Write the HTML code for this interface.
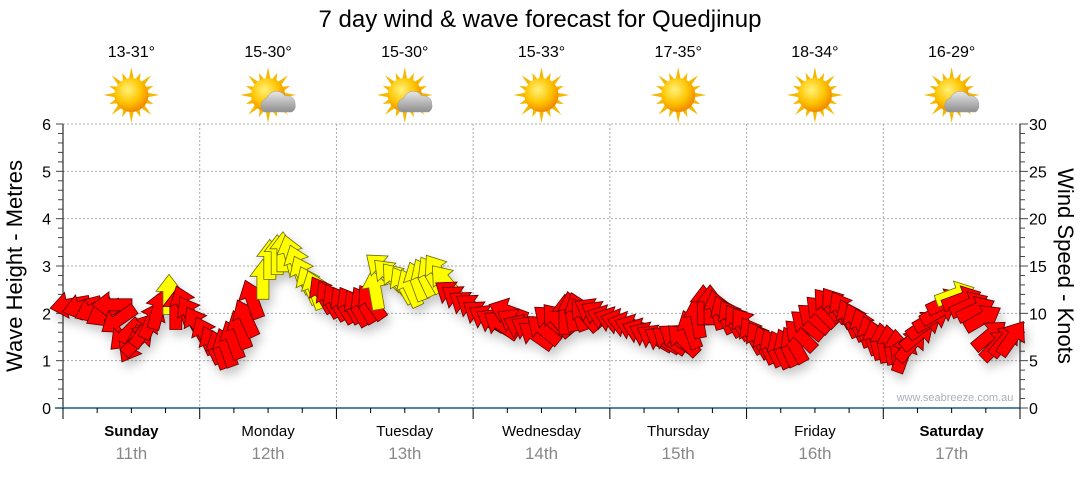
<!DOCTYPE html>
<html><head><meta charset="utf-8">
<style>
body{margin:0;background:#fff;font-family:"Liberation Sans",sans-serif;}
svg text{font-family:"Liberation Sans",sans-serif;}
</style></head>
<body>
<svg id="chart" width="1080" height="475" xmlns="http://www.w3.org/2000/svg">
<defs>
<filter id="sh" x="-50%" y="-50%" width="200%" height="200%"><feDropShadow dx="3" dy="6" stdDeviation="5" flood-color="#000" flood-opacity="0.22"/></filter>
<radialGradient id="sun" cx="40%" cy="35%" r="65%"><stop offset="0" stop-color="#fff27a"/><stop offset="0.6" stop-color="#ffc400"/><stop offset="1" stop-color="#f08a00"/></radialGradient>
<linearGradient id="cloud" x1="0" y1="0" x2="0" y2="1"><stop offset="0" stop-color="#e8e8e8"/><stop offset="1" stop-color="#8e8e8e"/></linearGradient>
</defs>
<text x="540" y="27" text-anchor="middle" font-size="24" fill="#000">7 day wind &amp; wave forecast for Quedjinup</text>
<g id="grid"></g>
<g id="axes"></g>
<g id="days"></g>
<g id="arrows" filter="url(#sh)"></g>
<text x="955" y="401" text-anchor="middle" font-size="11" fill="#a8b0bc">www.seabreeze.com.au</text>
<text transform="translate(22,266) rotate(-90)" text-anchor="middle" font-size="22" fill="#000">Wave Height - Metres</text>
<text transform="translate(1058,266) rotate(90)" text-anchor="middle" font-size="22" fill="#000">Wind Speed - Knots</text>
</svg>
<script>
const dayNames=["Sunday","Monday","Tuesday","Wednesday","Thursday","Friday","Saturday"];
const dayDates=["11th","12th","13th","14th","15th","16th","17th"];
const dayTemps=["13-31°","15-30°","15-30°","15-33°","17-35°","18-34°","16-29°"];
const dayIcons=["sun","cloud","cloud","sun","sun","sun","cloud"];
const waveTicks=[0,1,2,3,4,5,6];
const windTicks=[0,5,10,15,20,25,30];
const windHours=[1.2,3.3,5.3,7.2,8.6,9.7,10.9,12.1,13.2,14.4,15.6,16.7,18.6,19.8,21.1,22.3,23.5,
24.9,26.2,27.4,28.6,29.8,31.1,32.1,33.2,35.1,36.3,37.6,38.6,39.9,41.1,42.1,43.2,44.2,45.5,46.7,47.9,49.2,50.4,51.6,52.8,54.1,
54.8,56.0,57.2,58.5,59.7,60.9,62.1,63.4,64.6,65.8,67.1,68.3,69.5,70.8,72.0,
73.2,74.4,75.7,76.9,78.1,79.4,80.6,81.8,83.0,84.3,85.5,86.7,88.1,89.2,90.4,91.6,92.9,94.1,95.3,
96.6,97.8,99.0,100.2,101.5,102.7,103.9,105.2,106.4,107.6,108.8,110.1,111.3,112.4,113.6,114.8,116.0,117.3,118.5,119.7,
121.0,122.2,123.4,124.6,125.9,127.1,128.3,129.4,130.6,131.8,133.1,134.3,135.5,136.8,138.0,139.2,140.4,141.7,142.7,144.0,
145.2,146.4,147.6,148.9,150.1,151.3,152.6,153.8,155.0,156.6,157.8,159.1,160.3,161.5,162.7,164.0,165.4,166.6];
const windSpeed=[10.9,10.7,10.4,10.0,10.9,9.3,7.7,6.7,7.2,8.3,9.3,10.4,12.0,10.4,10.9,9.9,8.8,
7.7,6.7,6.2,6.4,7.2,8.3,9.5,11.5,13.6,15.7,16.2,16.5,16.2,15.2,14.1,13.0,12.5,12.0,11.5,11.2,10.9,10.9,10.6,10.9,11.2,
12.5,14.8,14.1,13.6,13.0,12.7,13.4,13.8,14.1,14.4,13.4,12.0,11.5,10.9,10.6,
9.9,9.5,9.1,8.8,10.2,9.1,8.5,8.3,7.7,8.3,9.3,9.3,9.9,10.2,10.2,9.9,10.2,9.9,9.5,
9.3,9.1,8.8,8.5,8.1,7.7,7.4,7.2,7.2,7.4,7.2,8.3,9.5,10.9,10.9,10.4,9.9,9.5,9.1,8.8,
7.7,7.2,6.7,6.4,6.2,6.4,6.7,7.7,8.8,9.5,10.2,10.9,10.9,10.4,9.5,9.1,8.5,7.7,7.2,6.9,
6.7,6.2,5.8,6.7,7.7,8.8,9.5,10.2,11.2,12.0,11.5,10.9,10.4,9.5,7.7,6.7,7.2,7.4];
const windDir=[-100,-105,-115,-120,-90,-125,-135,-150,45,35,25,15,0,0,-20,-30,-30,
-25,-25,-20,-20,-20,-20,-25,-20,0,0,0,0,-15,-20,-25,-25,-20,-30,-30,-30,-30,-30,-30,-30,-35,
-10,-50,-45,-40,-30,-25,-20,-25,-30,-35,-40,-55,-55,-55,-55,
-55,-60,-60,-55,-70,-60,-65,-60,-55,-50,-50,-40,0,-10,-20,-40,-60,-60,-70,
-70,-75,-75,-70,-70,-65,-60,-60,-55,-55,-45,-20,-10,0,0,-15,-25,-30,-35,-35,
-30,-30,-25,-25,-25,-25,-30,-45,-50,-50,-45,-40,-35,-30,-25,-25,-20,-20,-15,-10,
-10,-5,20,40,50,55,60,60,65,70,70,65,65,60,50,45,40,35];
const windYellow=[0,0,0,0,0,0,0,0,0,0,0,0,1,0,0,0,0,
0,0,0,0,0,0,0,0,1,1,1,1,1,1,1,1,1,0,0,0,0,0,0,0,0,
1,1,1,1,1,1,1,1,1,1,1,0,0,0,0,
0,0,0,0,0,0,0,0,0,0,0,0,0,0,0,0,0,0,0,
0,0,0,0,0,0,0,0,0,0,0,0,0,0,0,0,0,0,0,0,
0,0,0,0,0,0,0,0,0,0,0,0,0,0,0,0,0,0,0,0,
0,0,0,0,0,0,0,0,0,1,0,0,0,0,0,0,0,0];

const NS="http://www.w3.org/2000/svg";
const X0=63,X1=1020,Y0=408,Y1=124;
const xScale=h=>X0+h*(X1-X0)/168;
const yWave=m=>Y0-m*(Y0-Y1)/6;
const yWind=k=>Y0-k*(Y0-Y1)/30;
function mk(tag,attrs,parent){const e=document.createElementNS(NS,tag);for(const k in attrs)e.setAttribute(k,attrs[k]);parent.appendChild(e);return e;}
const grid=document.getElementById('grid'),axes=document.getElementById('axes'),days=document.getElementById('days'),arrows=document.getElementById('arrows');
waveTicks.forEach(m=>{if(m===0)return;const l=mk('line',{x1:X0,x2:X1,y1:yWave(m),y2:yWave(m),stroke:'#aaa','stroke-dasharray':'2,2'},grid);

});
for(let d=1;d<=7;d++){const x=xScale(d*24);const l=mk('line',{x1:x,x2:x,y1:Y1,y2:Y0,stroke:'#aaa','stroke-dasharray':'2,2'},grid);

}
mk('line',{x1:X0,x2:X0,y1:Y1,y2:Y0,stroke:'#000'},axes);
for(let i=0;i<=30;i++){const y=yWave(i*0.2);mk('line',{x1:i%5===0?X0-7:X0-5,x2:X0,y1:y,y2:y,stroke:'#444'},axes);}
waveTicks.forEach(m=>{const t=mk('text',{x:X0-12,y:yWave(m)+6,'text-anchor':'end','font-size':16,fill:'#000'},axes);t.textContent=m;

});
mk('line',{x1:X1,x2:X1,y1:Y1,y2:Y0,stroke:'#000'},axes);
for(let k=0;k<=30;k++){const y=yWind(k);mk('line',{x1:X1,x2:k%5===0?X1+8:X1+5,y1:y,y2:y,stroke:'#444'},axes);}
windTicks.forEach(k=>{const t=mk('text',{x:X1+9,y:yWind(k)+6,'font-size':16,fill:'#000'},axes);t.textContent=k;

});
mk('line',{x1:X0-8,x2:X1,y1:Y0,y2:Y0,stroke:'#1d5a85','stroke-width':1.5},axes);
for(let h=0;h<=168;h+=6){const x=xScale(h);mk('line',{x1:x,x2:x,y1:Y0,y2:h%24===0?Y0+11:Y0+5,stroke:'#000'},axes);}
dayNames.forEach((n,i)=>{const cx=xScale(i*24+12);
const g=mk('g',{},days);


const bold=(i===0||i===6);
const t=mk('text',{x:cx,y:436,'text-anchor':'middle','font-size':15,'font-weight':bold?'bold':'normal',fill:'#000'},g);t.textContent=n;
const d=mk('text',{x:cx,y:459,'text-anchor':'middle','font-size':17,fill:'#888'},g);d.textContent=dayDates[i];
const tp=mk('text',{x:cx,y:57,'text-anchor':'middle','font-size':16,fill:'#000'},g);tp.textContent=dayTemps[i];
const ic=mk('g',{transform:'translate('+cx+',95)'},g);


for(let r=0;r<16;r++){const a=r*Math.PI/8;const L=(r%2)?24:28;
mk('polygon',{points:[Math.cos(a)*L,Math.sin(a)*L,Math.cos(a+0.15)*16,Math.sin(a+0.15)*16,Math.cos(a-0.15)*16,Math.sin(a-0.15)*16].join(','),fill:'#f5b800'},ic);}
mk('circle',{cx:0,cy:0,r:17,fill:'url(#sun)'},ic);
if(dayIcons[i]==='cloud'){mk('path',{d:'M-4,17 a8,8 0 0 1 3,-14 a10,10 0 0 1 18,-2 a8,8 0 0 1 10,8 a7,7 0 0 1 -3,8 z',fill:'url(#cloud)',stroke:'#999','stroke-width':0.5},ic);}
});
const L=40,SW=6,HW=13,HL=17;
windHours.forEach((h,i)=>{const cx=xScale(h),cy=yWind(windSpeed[i]);
const pts=[[-SW,L/2],[SW,L/2],[SW,-L/2+HL],[HW,-L/2+HL],[0,-L/2],[-HW,-L/2+HL],[-SW,-L/2+HL]].map(p=>p.join(',')).join(' ');
const p=mk('polygon',{points:pts,transform:'translate('+cx.toFixed(1)+','+cy.toFixed(1)+') rotate('+windDir[i]+')',fill:windYellow[i]?'#ffff00':'#ff0000',stroke:windYellow[i]?'#6b6b00':'#5a0000','stroke-width':0.8},arrows);

});
</script>
</body></html>
